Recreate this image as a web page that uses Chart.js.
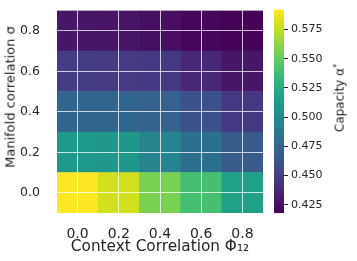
<!DOCTYPE html>
<html><head><meta charset="utf-8">
<script src="https://cdn.jsdelivr.net/npm/chart.js@4.4.1/dist/chart.umd.min.js"></script>
<style>
html,body{margin:0;padding:0;background:#fff;}
#wrap{position:relative;width:357px;height:261px;overflow:hidden;}
#main{position:absolute;left:0;top:0;}
#cbar{position:absolute;left:262px;top:0;}
.vlabel{position:absolute;font-family:"DejaVu Sans";font-weight:normal;color:#1a1a1a;white-space:nowrap;transform:translate(-50%,-50%) rotate(-90deg);line-height:1;}
#cblabel{left:339px;top:98px;font-size:12px;}
#ylabel{left:10px;top:97px;font-size:13px;}
.vlabel sup{font-size:0.7em;vertical-align:0.45em;}
</style></head><body>
<div id="wrap">
<canvas id="main" width="357" height="261"></canvas>
<canvas id="cbar" width="95" height="261"></canvas>
<div id="ylabel" class="vlabel">Manifold correlation σ</div>
<div id="cblabel" class="vlabel">Capacity α<sup>*</sup></div>
</div>
<script>
// ---- data ----
const contextCorr = ['0.0', '0.2', '0.4', '0.6', '0.8'];
const manifoldCorr = [0.0, 0.2, 0.4, 0.6, 0.8];
const cap_sigma00 = [0.592, 0.580, 0.557, 0.540, 0.517];
const cap_sigma02 = [0.511, 0.510, 0.496, 0.482, 0.468];
const cap_sigma04 = [0.474, 0.474, 0.472, 0.460, 0.446];
const cap_sigma06 = [0.449, 0.448, 0.447, 0.437, 0.428];
const cap_sigma08 = [0.428, 0.427, 0.425, 0.421, 0.419];
const yTickValues = [0.0, 0.2, 0.4, 0.6, 0.8];
const cbarTickValues = [0.425, 0.450, 0.475, 0.500, 0.525, 0.550, 0.575];
const vmin = 0.418, vmax = 0.592;

// ---- viridis colormap ----
const VIRIDIS = ['#440154','#471365','#482475','#463480','#414487','#3b528b','#355f8d','#2f6c8e','#2a788e','#25848e','#21918c','#1e9c89','#22a884','#2fb47c','#44bf70','#5ec962','#7ad151','#9bd93c','#bddf26','#dfe318','#fde725'];
function hex2rgb(h){return [parseInt(h.slice(1,3),16),parseInt(h.slice(3,5),16),parseInt(h.slice(5,7),16)];}
function viridis(v){
  let t=(v-vmin)/(vmax-vmin); t=Math.max(0,Math.min(1,t));
  const p=t*(VIRIDIS.length-1), i=Math.min(Math.floor(p),VIRIDIS.length-2), f=p-i;
  const a=hex2rgb(VIRIDIS[i]), b=hex2rgb(VIRIDIS[i+1]);
  return 'rgb('+a.map((x,k)=>Math.round(x+(b[k]-x)*f)).join(',')+')';
}

const TXT = '#262626';
const FONT = '"DejaVu Sans"';
const rows = [cap_sigma00, cap_sigma02, cap_sigma04, cap_sigma06, cap_sigma08];

new Chart(document.getElementById('main'), {
  type:'bar',
  data:{
    labels: contextCorr,
    datasets: rows.map((vals,i)=>({
      label: 'sigma '+manifoldCorr[i],
      data: vals.map(()=>[manifoldCorr[i]-0.1, manifoldCorr[i]+0.1]),
      backgroundColor: vals.map(viridis),
      borderWidth:0, barPercentage:1, categoryPercentage:1, grouped:false
    }))
  },
  options:{
    responsive:false, animation:false, devicePixelRatio:1,
    layout:{padding:{top:6, right:94, left:0, bottom:0}},
    plugins:{legend:{display:false}, tooltip:{enabled:false}},
    scales:{
      x:{
        type:'category', offset:true,
        grid:{offset:false, z:1, color:'rgba(255,255,255,0.75)', lineWidth:1, drawTicks:true, tickLength:12, tickColor:'rgba(0,0,0,0)'},
        border:{display:false},
        ticks:{color:TXT, font:{family:FONT, size:14}, padding:1},
        title:{display:true, text:'Context Correlation Φ₁₂', color:TXT, font:{family:FONT, size:15.3}, padding:{top:0,bottom:5}},
        afterFit:(s)=>{s.height=48;}
      },
      y:{
        type:'linear', min:-0.1, max:0.9,
        grid:{z:1, color:'rgba(255,255,255,0.75)', lineWidth:1, drawTicks:true, tickLength:14, tickColor:'rgba(0,0,0,0)'},
        border:{display:false},
        afterBuildTicks:(s)=>{s.ticks=yTickValues.map(v=>({value:v}));},
        ticks:{color:TXT, font:{family:FONT, size:12.5}, padding:3, callback:(v)=>Number(v).toFixed(1)},
        title:{display:false},
        afterFit:(s)=>{s.width=57;}
      }
    }
  }
});

new Chart(document.getElementById('cbar'), {
  type:'bar',
  data:{
    labels:['cbar'],
    datasets:[{
      data:[[vmin, vmax]],
      backgroundColor:(c)=>{
        const a=c.chart.chartArea; if(!a) return viridis((vmin+vmax)/2);
        const g=c.chart.ctx.createLinearGradient(0,a.bottom,0,a.top);
        VIRIDIS.forEach((col,i)=>g.addColorStop(i/(VIRIDIS.length-1), col));
        return g;
      },
      borderWidth:0, barPercentage:1, categoryPercentage:1
    }]
  },
  options:{
    responsive:false, animation:false, devicePixelRatio:1,
    layout:{padding:{top:6, left:12, bottom:48, right:0}},
    plugins:{legend:{display:false}, tooltip:{enabled:false}},
    scales:{
      x:{display:false},
      y:{
        position:'right', min:vmin, max:vmax,
        grid:{drawOnChartArea:false, drawTicks:true, tickLength:4, tickColor:TXT, lineWidth:1},
        border:{display:false},
        afterBuildTicks:(s)=>{s.ticks=cbarTickValues.map(v=>({value:v}));},
        ticks:{color:TXT, font:{family:FONT, size:11}, padding:3, callback:(v)=>Number(v).toFixed(3)},
        afterFit:(s)=>{s.width=73;}
      }
    }
  }
});
</script>
</body></html>
